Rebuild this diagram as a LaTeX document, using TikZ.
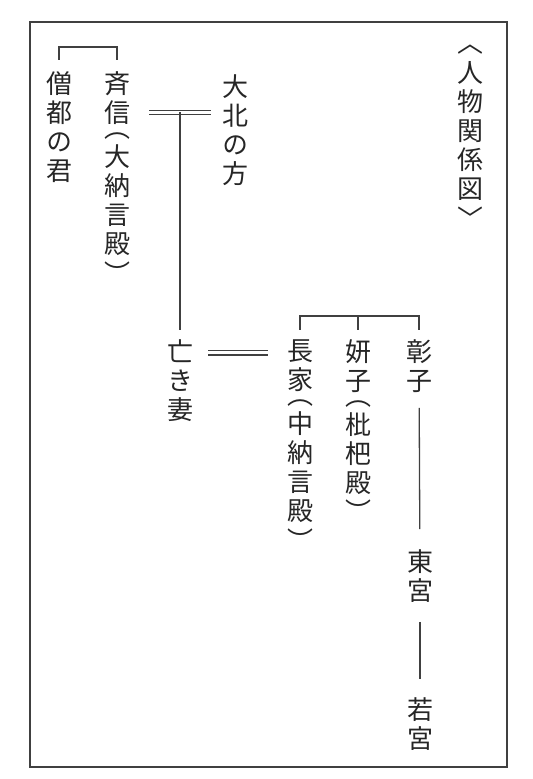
\documentclass[tikz,border=0pt]{standalone}
\usepackage{fontspec}
\newfontfamily\jpfont[RawFeature=+vert]{Noto Sans CJK JP}
\usetikzlibrary{positioning,calc}
% half-cell step before a vertical opening paren
\newcommand{\op}{\\[-7.3pt]}

\begin{document}
\begin{tikzpicture}[
    x=0.5pt, y=-0.5pt,
    person/.style={font=\jpfont\fontsize{13}{14.6}\selectfont, align=center, inner sep=0pt, anchor=north, text=black!85},
    line/.style={draw=black!75, line width=0.65pt},
    marriage/.style={draw=black!75, line width=0.6pt, double, double distance=1.5pt}
]
\useasboundingbox (0,0) rectangle (533,779);

% 枠
\draw[line] (30,22) rectangle (507,767);

% 表題
\node[person] (title) at (470,45) {〈\\人\\物\\関\\係\\図\\〉};

% 上段
\node[person] (sozu) at (59,71) {僧\\都\\の\\君};
\node[person] (tadanobu) at (117,71) {斉\\信\op（\\大\\納\\言\\殿\\）};
\node[person] (kita) at (235,74) {大\\北\\の\\方};

% 下段
\node[person] (tsuma) at (180,339) {亡\\き\\妻};
\node[person] (nagaie) at (300,339) {長\\家\op（\\中\\納\\言\\殿\\）};
\node[person] (kenshi) at (358,339) {妍\\子\op（\\枇\\杷\\殿\\）};
\node[person] (shoshi) at (419,339) {彰\\子};
\node[person] (togu) at (420,549) {東\\宮};
\node[person] (wakamiya) at (420,697) {若\\宮};

% 兄弟
\coordinate (sib1) at (88,47);
\draw[line] ([yshift=5.5pt]sozu.north) |- (sib1) -| ([yshift=5.5pt]tadanobu.north);
\coordinate (sib2) at (358,316);
\draw[line] ([yshift=4.5pt]nagaie.north) |- (sib2) -| ([yshift=4.5pt]shoshi.north);
\draw[line] ([yshift=4.5pt]kenshi.north) -- (sib2);

% 婚姻
\coordinate (m1) at (180,112.5);
\draw[marriage, shorten <=9.5pt, shorten >=5.5pt] (tadanobu.east |- m1) -- (kita.west |- m1);
\draw[line] (m1) -- ([yshift=4.5pt]tsuma.north);
\draw[marriage, shorten <=7.5pt, shorten >=9.5pt] ([yshift=-7pt]tsuma.north east) -- ([yshift=-7pt]nagaie.north west);

% 親子
\draw[line, shorten <=7.5pt, shorten >=10pt] (shoshi) -- (togu);
\draw[line, shorten <=9.5pt, shorten >=9pt] (togu) -- (wakamiya);

\end{tikzpicture}
\end{document}
